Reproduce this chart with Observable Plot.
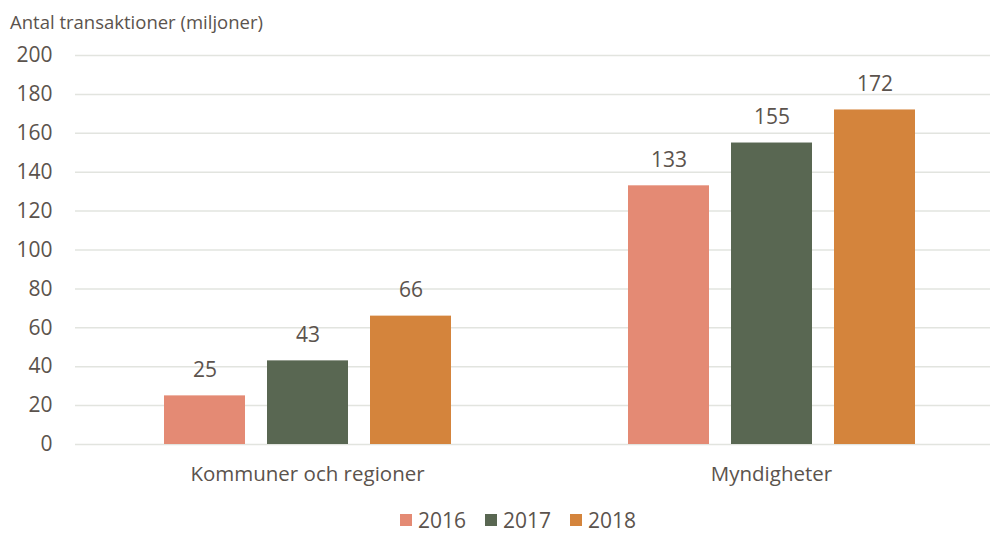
<!DOCTYPE html>
<html>
<head>
<meta charset="utf-8">
<script src="https://cdn.jsdelivr.net/npm/d3@7"></script>
<script src="https://cdn.jsdelivr.net/npm/@observablehq/plot@0.6"></script>
<style>
  body { margin: 0; background: #fff; width: 990px; height: 540px; overflow: hidden; font-family: "Open Sans", sans-serif; color: #5b534d; }
  #title { height: 40px; line-height: 44px; padding-left: 10px; font-size: 18.5px; }
  #legend { height: 40px; display: flex; align-items: center; padding-left: 400px; font-size: 21px; }
  .item { display: flex; align-items: center; width: 85px; }
  .sw { width: 12px; height: 12px; margin-right: 6px; }
</style>
</head>
<body>
<div id="title">Antal transaktioner (miljoner)</div>
<div id="chart"></div>
<div id="legend"></div>
<script>
const categories = ["Kommuner och regioner", "Myndigheter"];
const years = ["2016", "2017", "2018"];
const values2016 = [25, 133];
const values2017 = [43, 155];
const values2018 = [66, 172];
const colors = ["#E48A74", "#596752", "#D4843C"];
const yTicks = [0, 20, 40, 60, 80, 100, 120, 140, 160, 180, 200];

const series = [values2016, values2017, values2018];
const data = categories.flatMap((c, i) => years.map((y, j) => ({category: c, year: y, value: series[j][i]})));

const chart = Plot.plot({
  width: 990,
  height: 460,
  marginTop: 15,
  marginBottom: 56,
  marginLeft: 75,
  marginRight: 0,
  style: {fontFamily: "Open Sans", fontSize: "20px", color: "#5b534d", background: "white"},
  fx: {domain: categories, range: [75, 1003], padding: 0, label: null},
  x: {domain: years, paddingInner: 0.2136, paddingOuter: 0.859, axis: null},
  y: {domain: [0, 200], label: null},
  color: {domain: years, range: colors},
  marks: [
    Plot.ruleY(yTicks, {stroke: "#e2e4df", strokeWidth: 1.5}),
    Plot.barY(data, {fx: "category", x: "year", y: "value", fill: "year"}),
    Plot.text(data, {fx: "category", x: "year", y: "value", text: d => String(d.value), dy: -26, fontSize: 21, fill: "#5b534d"}),
    Plot.axisY({ticks: yTicks, tickSize: 0, tickPadding: 23, label: null, fontSize: 21}),
    Plot.axisFx({anchor: "bottom", tickSize: 0, tickPadding: 22, label: null, fontSize: 20.5})
  ]
});
document.getElementById("chart").appendChild(chart);

const legend = document.getElementById("legend");
years.forEach((y, i) => {
  const item = document.createElement("div");
  item.className = "item";
  const sw = document.createElement("div");
  sw.className = "sw";
  sw.style.background = colors[i];
  const t = document.createElement("span");
  t.textContent = y;
  item.appendChild(sw);
  item.appendChild(t);
  legend.appendChild(item);
});
</script>
</body>
</html>
